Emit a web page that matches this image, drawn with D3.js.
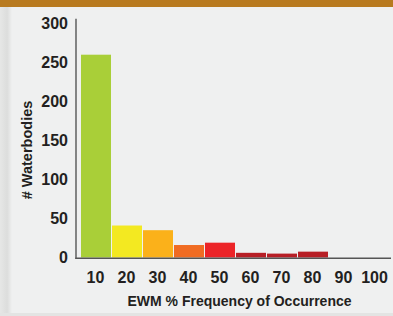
<!DOCTYPE html>
<html>
<head>
<meta charset="utf-8">
<script src="https://cdn.jsdelivr.net/npm/d3@7"></script>
<style>
html,body{margin:0;padding:0;background:#eff0f0;}
svg{display:block;}
</style>
</head>
<body>
<svg id="chart" width="393" height="316"></svg>
<script>
const categories = ["10","20","30","40","50","60","70","80","90","100"];
const counts = [260, 41, 35, 16, 19, 6, 5, 7.5, 0, 0];
const barColors = ["#a9cf38","#f3e921","#fbb11a","#f06c23","#ec2428","#b71f26","#b71f26","#b71f26","#b71f26","#b71f26"];
const yTicks = [0,50,100,150,200,250,300];
const xTitle = "EWM % Frequency of Occurrence";
const yTitle = "# Waterbodies";

const svg = d3.select("#chart");
const W = 393, H = 316;
const narrow = "'Liberation Sans Narrow','Arial Narrow','Liberation Sans',sans-serif";
const tickFont = "'Liberation Sans',Arial,sans-serif";

// background
const defs = svg.append("defs");
const lg = defs.append("linearGradient").attr("id","leftShade").attr("x1","0").attr("x2","1");
lg.append("stop").attr("offset","0").attr("stop-color","#e6e7e6");
lg.append("stop").attr("offset","0.6").attr("stop-color","#dcdddc");
lg.append("stop").attr("offset","1").attr("stop-color","#eff0f0");
svg.append("rect").attr("width",W).attr("height",H).attr("fill","#eff0f0");
svg.append("rect").attr("x",0).attr("y",0).attr("width",12).attr("height",H).attr("fill","url(#leftShade)");
svg.append("rect").attr("x",0).attr("y",313).attr("width",W).attr("height",3).attr("fill","#e3e4e3");
svg.append("rect").attr("x",0).attr("y",0).attr("width",W).attr("height",7).attr("fill","#b87a1f");

const x = d3.scaleBand().domain(categories).range([81, 391]).padding(0);
const y = d3.scaleLinear().domain([0,300]).range([257.5, 23.5]);

// bars
svg.append("g").selectAll("rect").data(categories).join("rect")
  .attr("x", d => x(d))
  .attr("width", x.bandwidth() - 1)
  .attr("y", (d,i) => y(counts[i]))
  .attr("height", (d,i) => y(0) - y(counts[i]))
  .attr("fill", (d,i) => barColors[i]);

// y axis
const yAxis = svg.append("g").attr("transform","translate(76,0)")
  .call(d3.axisLeft(y).tickValues(yTicks).tickSize(0).tickPadding(8));
yAxis.select(".domain").remove();
yAxis.selectAll("text").attr("font-family",tickFont).attr("font-weight","bold")
  .attr("font-size",16).attr("fill","#231f20");

// x axis
const xAxis = svg.append("g").attr("transform","translate(-1,258)")
  .call(d3.axisBottom(x).tickSize(0).tickPadding(14));
xAxis.select(".domain").remove();
xAxis.selectAll("text").attr("font-family",tickFont).attr("font-weight","bold")
  .attr("font-size",16).attr("fill","#231f20");

// axis lines
svg.append("line").attr("x1",76).attr("x2",76).attr("y1",y(0)+1.5).attr("y2",y(306))
  .attr("stroke","#555").attr("stroke-width",1.4);
svg.append("line").attr("x1",75.3).attr("x2",391).attr("y1",258.2).attr("y2",258.2)
  .attr("stroke","#555").attr("stroke-width",1.6);

// titles
svg.append("text").attr("x",239.5).attr("y",306).attr("text-anchor","middle")
  .attr("font-family",narrow).attr("font-weight","bold").attr("font-size",14)
  .attr("fill","#231f20").text(xTitle);
svg.append("text").attr("transform","translate(32,150) rotate(-90)").attr("text-anchor","middle")
  .attr("font-family",narrow).attr("font-weight","bold").attr("font-size",14.5)
  .attr("fill","#231f20").text(yTitle);
</script>
</body>
</html>
